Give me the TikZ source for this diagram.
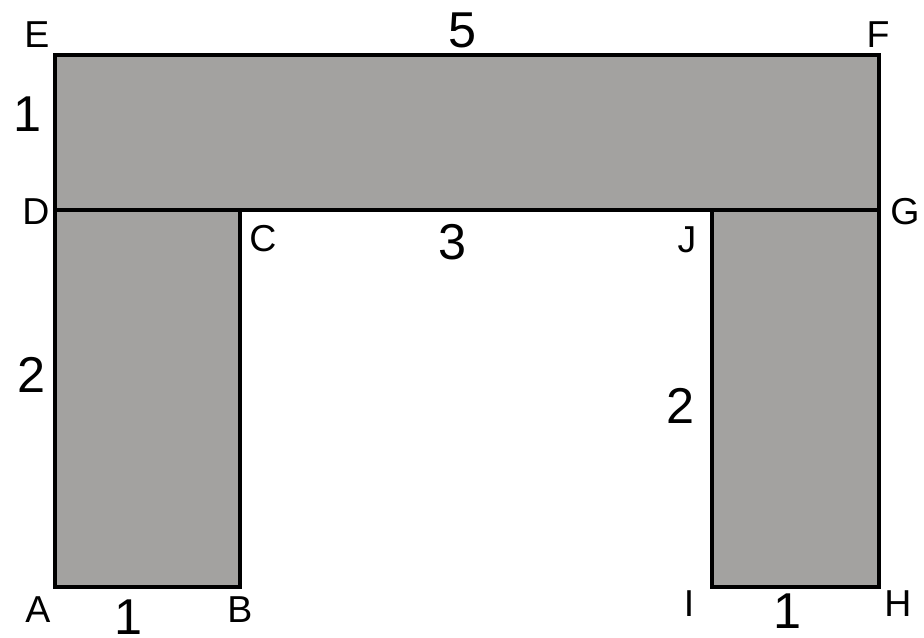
\documentclass[tikz,border=0pt]{standalone}
\usepackage{fontspec}
\setmainfont{Liberation Sans}
\usepackage{tikz}
\tikzset{
  block/.style={fill={rgb,255:red,163;green,162;blue,160},draw=black,line width=3.4pt},
  vtx/.style={font=\fontsize{32}{36}\selectfont},
  len/.style={font=\fontsize{43}{48}\selectfont}
}

\begin{document}
\begin{tikzpicture}[x=0.03cm,y=-0.03cm]
      \useasboundingbox (0,0) rectangle (924,637);
      %BLOCKS
      \draw[block] (55,210) rectangle (240,587); %left leg
      \draw[block] (712,210) rectangle (879,587); %right leg
      \draw[block] (55,55) rectangle (879,210); %top bar

      %CORNER LABELS
      \node[vtx] (E) at (37,35) {E};
      \node[vtx] (F) at (878,35) {F};
      \node[vtx] (D) at (36,212) {D};
      \node[vtx] (G) at (905,212) {G};
      \node[vtx] (C) at (263,239) {C};
      \node[vtx] (J) at (687,240) {J};
      \node[vtx] (A) at (38,610) {A};
      \node[vtx] (B) at (240,610) {B};
      \node[vtx] (I) at (689,604) {I};
      \node[vtx] (H) at (898,604) {H};

      %LENGTHS
      \node[len] (top) at (463,30) {5};
      \node[len] (side) at (28,114) {1};
      \node[len] (gap) at (453,242) {3};
      \node[len] (legl) at (32,375) {2};
      \node[len] (legr) at (681,406) {2};
      \node[len] (footl) at (129,617) {1};
      \node[len] (footr) at (787,611) {1};
\end{tikzpicture}
\end{document}
